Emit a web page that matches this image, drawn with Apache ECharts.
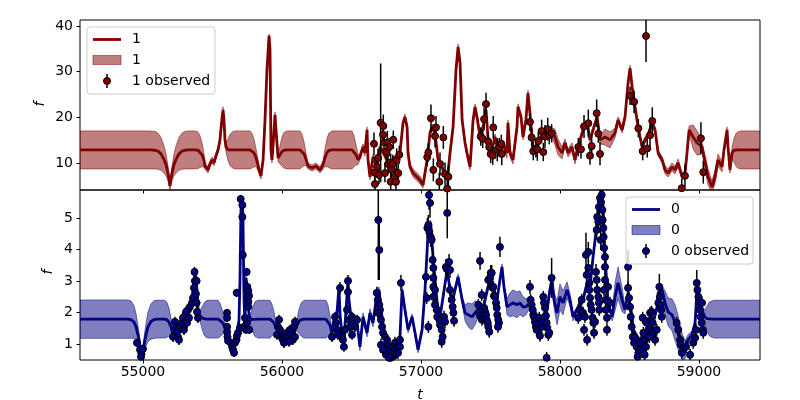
<!DOCTYPE html>
<html><head><meta charset="utf-8">
<script src="https://cdn.jsdelivr.net/npm/echarts@6/dist/echarts.min.js"></script>
<style>html,body{margin:0;padding:0;background:#fff}#c{width:800px;height:400px}</style>
</head><body><div id="c"></div>
<script>
// ---------- data ----------
const xTicks = [55000, 56000, 57000, 58000, 59000];
const topYTicks = [10, 20, 30, 40];
const botYTicks = [1, 2, 3, 4, 5];
const topLegend = ['1', '1', '1 observed'];
const botLegend = ['0', '0', '0 observed'];

// model: [t, mean, band half-width]
const topModel = [[54547,12.87,4.16],[55051,12.87,4.16],[55087,12.8,4.1],[55108,12.6,3.95],[55130,12.0,3.6],[55151,10.8,3.0],[55166,9.6,2.4],[55180,7.8,1.6],[55194,5.0,1.0],[55209,7.8,1.6],[55223,9.6,2.4],[55238,10.8,3.0],[55259,12.0,3.6],[55281,12.6,3.95],[55302,12.8,4.1],[55324,12.87,4.16],[55374,12.87,4.16],[55396,12.8,4.0],[55410,12.5,3.5],[55425,11.8,2.6],[55439,10.6,1.5],[55446,9.37,0.66],[55468,8.49,0.66],[55482,9.81,0.66],[55497,10.68,0.66],[55511,10.03,0.66],[55525,11.56,0.66],[55540,12.87,0.66],[55554,15.06,0.66],[55569,19.87,0.66],[55576,21.62,0.66],[55583,19.43,0.66],[55590,15.06,0.66],[55597,13.53,1.09],[55612,12.9,2.4],[55626,12.87,3.4],[55641,12.87,3.9],[55662,12.87,4.16],[55770,12.87,4.16],[55784,12.7,3.8],[55799,12.2,3.0],[55813,11.2,2.0],[55828,9.5,1.2],[55835,8.49,0.88],[55849,7.18,0.66],[55864,10.68,0.66],[55878,19.43,0.66],[55892,30.37,0.66],[55907,37.81,0.44],[55914,34.75,0.66],[55921,12.87,0.66],[55928,10.68,0.66],[55935,13.31,0.66],[55950,20.53,0.66],[55957,17.25,0.66],[55972,11.12,0.88],[55986,11.8,2.0],[56000,12.5,3.2],[56015,12.8,3.9],[56036,12.87,4.16],[56130,12.87,4.16],[56144,12.7,3.6],[56159,12.0,2.6],[56173,10.8,1.3],[56187,9.37,0.66],[56216,8.93,0.66],[56245,9.37,0.66],[56274,8.49,0.66],[56295,9.59,0.88],[56310,11.2,2.0],[56324,12.3,3.1],[56338,12.75,3.8],[56360,12.87,4.16],[56504,12.87,4.16],[56518,12.6,3.4],[56533,11.8,2.2],[56547,10.7,1.1],[56561,11.34,0.66],[56583,13.53,0.66],[56597,12.21,0.66],[56612,17.25,0.66],[56619,10.68,0.66],[56633,6.96,0.66],[56655,11.34,0.66],[56684,9.15,0.66],[56691,10.68,0.66],[56705,13.53,0.66],[56727,12.43,0.66],[56756,10.68,0.66],[56777,9.15,0.66],[56799,10.68,0.66],[56828,11.34,0.66],[56849,12.21,0.66],[56871,18.78,0.66],[56885,20.09,0.66],[56900,17.9,0.66],[56907,12.21,0.66],[56921,9.15,0.66],[56943,7.84,0.88],[56972,6.96,0.88],[56993,6.31,0.88],[57015,5.21,0.66],[57044,10.68,0.66],[57065,16.59,0.66],[57080,17.9,0.66],[57101,16.59,0.66],[57123,10.68,0.66],[57152,9.15,0.66],[57173,6.96,0.66],[57195,7.84,0.66],[57209,12.21,0.66],[57231,17.9,0.66],[57252,30.37,0.66],[57267,35.41,0.66],[57281,31.9,0.66],[57296,19.43,0.66],[57317,14.4,0.66],[57331,12.21,0.66],[57353,9.15,0.66],[57375,19.43,0.66],[57389,22.28,0.66],[57403,20.09,0.66],[57425,15.71,0.66],[57447,17.9,0.66],[57468,21.62,0.66],[57483,15.06,0.66],[57511,12.87,0.66],[57533,15.71,0.66],[57554,12.87,0.66],[57583,14.4,0.66],[57619,12.21,1.09],[57626,18.78,0.66],[57640,12.21,0.88],[57662,10.68,0.88],[57691,17.9,0.66],[57698,22.28,0.66],[57720,20.09,0.66],[57734,15.71,0.66],[57755,19.43,0.66],[57770,25.28,0.66],[57784,20.9,0.66],[57799,15.71,0.66],[57806,12.21,0.66],[57835,13.53,0.66],[57871,16.59,0.66],[57907,16.59,0.88],[57943,16.59,1.09],[57964,15.71,1.75],[57986,13.53,1.75],[58015,12.21,1.31],[58036,14.4,0.88],[58058,12.21,0.88],[58086,13.53,0.88],[58108,10.68,0.88],[58130,13.53,0.66],[58166,17.25,0.66],[58195,18.78,0.66],[58216,15.06,0.66],[58238,17.25,0.66],[58267,20.09,0.66],[58288,15.06,0.88],[58324,15.71,1.75],[58360,15.06,1.75],[58396,16.59,1.09],[58418,19.43,0.66],[58447,17.25,0.66],[58468,20.09,0.66],[58490,27.53,0.66],[58504,30.75,0.66],[58519,26.65,0.66],[58540,22.28,0.66],[58562,17.9,0.66],[58576,15.71,0.66],[58591,13.53,0.66],[58612,15.06,0.66],[58634,16.15,0.66],[58663,18.78,0.66],[58684,17.25,0.66],[58706,12.21,0.66],[58735,10.68,0.66],[58756,8.49,0.88],[58778,7.84,0.88],[58806,9.15,0.88],[58828,8.49,0.88],[58850,10.03,0.88],[58879,6.96,0.66],[58900,7.84,0.66],[58914,12.21,0.66],[58929,17.25,0.88],[58958,15.71,2.63],[58986,14.4,2.63],[59007,13.96,2.19],[59022,13.53,1.09],[59036,11.34,1.31],[59051,9.15,1.75],[59065,6.96,1.75],[59094,4.77,1.31],[59115,6.96,1.53],[59137,10.68,1.31],[59166,9.15,1.09],[59180,12.87,0.66],[59202,17.25,0.66],[59209,13.53,0.66],[59223,8.49,0.66],[59238,12.21,1.31],[59252,12.8,2.6],[59266,12.87,3.6],[59281,12.87,4.0],[59302,12.87,4.16],[59439,12.87,4.16]];

const botModel = [[54547,1.794,0.608],[54892,1.794,0.608],[54914,1.78,0.59],[54936,1.70,0.52],[54950,1.55,0.42],[54964,1.30,0.30],[54979,0.95,0.18],[54986,0.70,0.13],[54997,0.72,0.14],[55007,0.98,0.22],[55022,1.30,0.36],[55036,1.55,0.47],[55058,1.72,0.56],[55079,1.78,0.6],[55101,1.794,0.6],[55158,1.794,0.6],[55173,1.77,0.55],[55187,1.70,0.45],[55202,1.55,0.28],[55216,1.298,0.095],[55238,1.456,0.095],[55259,1.582,0.095],[55281,1.772,0.095],[55302,1.867,0.095],[55324,2.025,0.095],[55338,2.247,0.095],[55353,2.468,0.095],[55367,2.975,0.095],[55374,3.26,0.095],[55389,2.721,0.095],[55396,2.089,0.095],[55410,1.90,0.16],[55425,1.83,0.35],[55439,1.80,0.5],[55454,1.794,0.58],[55475,1.794,0.6],[55540,1.794,0.6],[55554,1.77,0.53],[55569,1.70,0.40],[55583,1.60,0.24],[55597,1.50,0.12],[55605,1.456,0.095],[55626,0.981,0.095],[55641,0.823,0.095],[55662,1.044,0.095],[55676,1.298,0.095],[55691,1.772,0.095],[55698,3.038,0.095],[55705,5.253,0.095],[55712,5.57,0.095],[55719,5.095,0.095],[55727,2.405,0.095],[55734,1.614,0.095],[55741,3.101,0.095],[55748,2.88,0.095],[55763,1.93,0.095],[55777,1.77,0.2],[55792,1.79,0.42],[55806,1.794,0.55],[55828,1.794,0.6],[55914,1.794,0.6],[55928,1.77,0.5],[55943,1.68,0.35],[55957,1.52,0.16],[55979,1.329,0.095],[56007,1.203,0.095],[56036,1.298,0.095],[56065,1.203,0.095],[56094,1.456,0.095],[56108,1.60,0.18],[56122,1.72,0.38],[56137,1.78,0.52],[56158,1.794,0.6],[56317,1.794,0.6],[56331,1.75,0.5],[56346,1.60,0.3],[56360,1.329,0.127],[56374,1.772,0.095],[56389,1.614,0.095],[56403,2.405,0.095],[56410,2.785,0.095],[56418,1.93,0.095],[56432,1.298,0.095],[56446,1.139,0.095],[56461,2.089,0.095],[56475,3.038,0.095],[56482,2.405,0.095],[56497,1.836,0.095],[56518,1.614,0.095],[56540,1.677,0.095],[56561,0.918,0.127],[56583,1.867,0.127],[56612,1.361,0.127],[56633,1.994,0.127],[56655,1.677,0.127],[56684,2.627,0.095],[56698,2.721,0.095],[56720,1.867,0.095],[56741,1.234,0.095],[56763,0.918,0.095],[56799,0.823,0.095],[56828,0.918,0.095],[56849,1.234,0.095],[56864,2.721,0.095],[56885,2.089,0.095],[56907,1.456,0.095],[56936,1.867,0.095],[56957,1.361,0.095],[56979,0.823,0.095],[57008,1.456,0.095],[57029,2.721,0.095],[57051,4.525,0.095],[57070,4.842,0.095],[57087,3.766,0.095],[57116,2.31,0.095],[57137,1.867,0.095],[57159,2.5,0.095],[57188,3.355,0.095],[57202,2.943,0.095],[57224,2.31,0.095],[57245,2.721,0.095],[57267,3.133,0.095],[57296,2.405,0.095],[57317,1.994,0.253],[57339,1.93,0.38],[57367,1.867,0.411],[57389,1.994,0.38],[57411,2.089,0.253],[57439,1.994,0.158],[57461,2.405,0.127],[57482,2.817,0.095],[57504,3.133,0.095],[57518,2.817,0.095],[57547,2.405,0.127],[57568,3.038,0.095],[57583,3.45,0.095],[57597,2.817,0.095],[57619,2.184,0.253],[57640,2.247,0.38],[57662,2.31,0.411],[57691,2.247,0.411],[57712,2.31,0.38],[57734,2.184,0.316],[57755,2.184,0.253],[57784,2.31,0.158],[57806,2.089,0.127],[57835,1.867,0.127],[57856,1.677,0.127],[57878,1.867,0.127],[57907,2.089,0.19],[57928,2.721,0.19],[57943,3.038,0.19],[57957,2.405,0.253],[57979,1.994,0.38],[58000,2.5,0.411],[58022,2.31,0.38],[58051,2.721,0.253],[58072,2.405,0.19],[58094,1.867,0.127],[58123,2.089,0.095],[58144,2.31,0.095],[58166,2.405,0.095],[58195,2.943,0.095],[58216,2.817,0.095],[58238,3.766,0.095],[58267,4.842,0.095],[58288,5.475,0.095],[58303,5.886,0.095],[58310,5.348,0.095],[58324,3.766,0.095],[58346,2.31,0.095],[58375,1.867,0.127],[58396,2.5,0.443],[58418,2.943,0.506],[58447,2.405,0.38],[58468,2.089,0.127],[58490,2.627,0.127],[58519,1.867,0.095],[58526,1.456,0.095],[58555,1.234,0.095],[58576,1.044,0.095],[58598,1.361,0.095],[58627,1.234,0.095],[58648,1.456,0.095],[58670,1.677,0.095],[58699,2.184,0.095],[58706,2.627,0.095],[58735,2.721,0.127],[58756,2.31,0.38],[58778,2.025,0.443],[58806,1.93,0.506],[58828,1.677,0.57],[58850,1.361,0.538],[58879,0.918,0.411],[58900,0.823,0.285],[58921,1.139,0.158],[58950,1.298,0.127],[58972,1.677,0.095],[58986,2.721,0.095],[59007,2.405,0.095],[59029,1.994,0.127],[59043,1.86,0.24],[59058,1.81,0.4],[59072,1.80,0.52],[59094,1.794,0.58],[59115,1.794,0.6],[59439,1.794,0.6]];

// observed: [t, value, error]
const topObs = [[56662,14.2,2.5],[56669,5.4,2],[56667,7.9,2],[56684,9.2,2.5],[56691,11.1,2],[56710,18.8,13],[56729,18.1,2.5],[56727,16.2,2],[56734,14.5,2],[56698,7.4,2],[56741,7.8,2],[56753,12.5,2],[56758,14.5,2.5],[56772,13.5,2],[56763,9.8,2],[56782,10.1,2],[56789,8.6,2],[56797,9.8,2],[56801,15.1,2],[56782,5.9,2],[56813,7.0,2],[56820,5.9,2],[56825,10.7,2.5],[56837,7.8,2],[56844,11.8,2],[57045,11.3,2],[57053,12.3,2],[57072,19.8,3],[57089,8.5,2.5],[57101,15.9,2.5],[57108,17.8,2.5],[57137,9.8,2.5],[57132,5.9,2],[57161,15.6,2.5],[57173,7.6,2.5],[57189,4.4,2],[57197,7.0,2.5],[57430,15.8,2],[57444,15.3,2],[57454,19.6,2.5],[57468,22.9,2.5],[57484,14.7,2],[57491,13.5,2],[57501,12.0,2],[57520,17.8,2.5],[57516,11.6,2],[57549,12.9,2.5],[57563,13.5,2],[57578,14.2,2],[57581,12.0,2.5],[57784,19.0,2],[57796,15.6,2],[57808,12.6,2],[57827,13.2,2],[57837,13.0,2.5],[57844,14.8,2],[57868,17.0,2.5],[57880,12.4,2],[57892,15.8,2.5],[57912,17.4,2.5],[57923,16.1,2],[57940,16.5,2],[58132,13.5,2],[58151,13.0,2],[58173,18.0,2.5],[58204,18.7,3],[58228,13.7,2.5],[58216,11.6,2],[58264,20.9,3],[58276,16.4,2],[58288,12.0,2.5],[58504,24.7,2],[58533,23.4,2.5],[58564,17.6,2],[58595,12.6,2],[58628,13.2,2],[58648,16.1,2.5],[58664,19.2,3],[58619,37.8,5.7],[58876,4.5,2],[58899,7.2,2.5],[59014,15.4,3.5],[59031,8.0,2.5]];

const botObs = [[54957,1.044,0.13],[54979,0.823,0.13],[54989,0.696,0.13],[55000,0.854,0.13],[54986,0.60,0.13],
[55216,1.234,0.16],[55230,1.709,0.16],[55238,1.551,0.16],[55245,1.392,0.16],[55252,1.234,0.16],[55266,1.551,0.16],[55281,1.677,0.16],[55288,1.836,0.16],[55302,1.899,0.16],[55317,1.677,0.16],[55324,2.089,0.16],[55331,1.836,0.16],[55338,2.184,0.16],[55353,2.31,0.16],[55360,2.468,0.16],[55367,2.785,0.16],[55371,3.291,0.16],[55374,3.006,0.16],[55386,3.006,0.16],[55381,2.595,0.16],[55386,2.31,0.16],[55389,2.025,0.16],[55396,1.836,0.16],[55310,2.025,0.16],[55295,1.456,0.16],[55259,1.139,0.16],
[55605,1.994,0.13],[55605,1.836,0.13],[55605,1.551,0.13],[55605,1.392,0.13],[55608,1.234,0.13],[55612,1.108,0.13],[55633,1.044,0.13],[55641,0.918,0.13],[55648,0.823,0.13],[55655,0.728,0.13],[55662,1.044,0.13],[55673,1.139,0.13],[55676,1.266,0.13],[55684,1.361,0.13],[55698,1.519,0.13],[55674,2.627,0.13],[55703,5.601,0.13],[55715,5.412,0.13],[55715,5.032,0.13],[55718,3.829,0.13],[55727,1.551,0.13],[55741,1.456,0.13],[55748,1.677,0.13],[55746,3.291,0.13],[55751,2.817,0.13],[55758,2.69,0.13],[55763,2.532,0.13],[55758,2.342,0.13],[55758,2.184,0.13],[55765,1.456,0.13],[55734,1.836,0.13],
[55964,1.298,0.16],[55971,1.551,0.16],[55979,1.772,0.16],[55986,1.456,0.16],[56000,1.203,0.16],[56007,1.139,0.16],[56022,1.298,0.16],[56029,1.203,0.16],[56036,1.361,0.16],[56043,1.234,0.16],[56058,1.456,0.16],[56065,1.298,0.16],[56079,1.139,0.16],[56086,1.551,0.16],[56094,1.709,0.16],[56094,1.234,0.16],[56014,1.044,0.16],[56050,1.076,0.16],
[56360,1.234,0.16],[56382,1.867,0.16],[56389,1.677,0.16],[56396,1.456,0.16],[56403,1.298,0.16],[56418,2.785,0.19],[56432,1.234,0.16],[56439,1.139,0.16],[56446,0.918,0.16],[56453,1.456,0.16],[56468,2.089,0.16],[56475,3.006,0.19],[56475,2.658,0.16],[56482,1.772,0.16],[56489,1.551,0.16],[56504,1.867,0.16],[56511,1.709,0.16],[56525,1.551,0.16],[56540,1.772,0.16],[56504,1.298,0.16],
[56682,2.627,0.19],[56689,2.405,0.19],[56693,4.937,1.9],[56700,3.987,0.95],[56700,2.247,0.19],[56705,2.089,0.19],[56691,1.994,0.19],[56712,1.772,0.19],[56720,1.551,0.19],[56727,1.361,0.19],[56741,1.234,0.19],[56756,1.139,0.19],[56756,1.013,0.19],[56763,0.918,0.19],[56777,0.823,0.19],[56792,0.728,0.19],[56799,0.918,0.19],[56813,1.044,0.19],[56828,0.823,0.19],[56835,0.95,0.19],[56849,1.139,0.19],[56856,2.943,0.25],[56849,0.918,0.19],[56835,0.728,0.19],[56806,0.633,0.19],[56784,0.569,0.19],[56749,0.665,0.19],[56727,0.823,0.19],[56712,0.981,0.19],[56770,0.569,0.19],
[57036,3.133,0.19],[57041,2.468,0.19],[57053,1.551,0.19],[57046,4.684,0.32],[57053,4.779,0.32],[57060,4.557,0.32],[57070,4.399,0.32],[57077,4.304,0.32],[57058,5.728,0.47],[57065,5.475,0.47],[57084,3.671,0.25],[57089,3.418,0.25],[57089,3.101,0.25],[57089,2.817,0.19],[57101,2.721,0.19],[57089,2.5,0.19],[57101,2.247,0.19],[57113,2.089,0.19],[57117,1.867,0.19],[57132,1.772,0.19],[57137,1.614,0.19],[57149,1.456,0.19],[57149,1.076,0.19],[57156,1.234,0.19],[57166,1.867,0.19],[57173,1.709,0.19],[57180,3.45,0.25],[57185,3.386,0.25],[57189,5.158,0.8],[57202,3.608,0.25],[57209,3.355,0.25],[57209,2.721,0.19],[57221,2.405,0.19],[57228,2.184,0.19],[57233,1.994,0.19],[57238,1.741,0.19],
[57413,2.247,0.19],[57420,2.025,0.19],[57425,3.64,0.28],[57425,1.899,0.19],[57437,2.563,0.19],[57439,1.772,0.19],[57447,1.836,0.19],[57454,2.152,0.19],[57461,2.025,0.19],[57468,1.93,0.19],[57473,1.772,0.19],[57480,1.677,0.19],[57484,1.551,0.19],[57491,1.392,0.19],[57484,3.038,0.25],[57497,3.101,0.25],[57502,3.26,0.25],[57509,3.26,0.25],[57516,2.785,0.19],[57520,2.817,0.19],[57525,2.532,0.19],[57532,2.5,0.19],[57540,2.31,0.19],[57545,2.152,0.19],[57549,1.93,0.19],[57556,1.772,0.19],[57561,1.677,0.19],[57554,1.551,0.19],[57568,4.082,0.32],
[57784,2.817,0.22],[57789,2.405,0.19],[57796,2.247,0.19],[57804,2.089,0.19],[57808,1.93,0.19],[57813,1.867,0.19],[57820,1.709,0.19],[57827,1.551,0.19],[57832,1.456,0.19],[57844,1.677,0.19],[57851,1.836,0.19],[57856,1.266,0.19],[57868,1.551,0.19],[57875,1.709,0.19],[57880,2.5,0.19],[57885,2.31,0.19],[57892,2.152,0.19],[57899,1.899,0.19],[57904,1.677,0.19],[57909,1.519,0.19],[57916,1.297,0.19],[57923,1.361,0.19],[57940,3.101,0.63],[57904,0.569,0.19],
[58132,1.836,0.19],[58144,2.089,0.19],[58156,2.405,0.19],[58166,1.994,0.19],[58180,1.867,0.19],[58187,3.829,0.7],[58192,3.196,0.25],[58204,3.924,0.32],[58204,3.418,0.25],[58211,2.943,0.25],[58211,2.721,0.19],[58216,2.468,0.19],[58221,2.247,0.19],[58228,2.089,0.19],[58235,1.836,0.19],[58240,1.677,0.19],[58252,1.709,0.19],[58259,3.291,0.25],[58264,3.038,0.25],[58268,2.721,0.19],[58276,2.5,0.19],[58280,2.31,0.19],[58283,2.089,0.19],[58264,4.62,0.32],[58268,5.032,0.32],[58276,4.874,0.32],[58280,5.348,0.32],[58288,5.633,0.32],[58293,4.304,0.32],[58295,5.507,0.32],[58300,5.728,0.32],[58305,5.253,0.32],[58307,4.937,0.32],[58312,4.684,0.32],[58314,4.399,0.32],[58317,4.051,0.25],[58324,3.766,0.25],[58324,3.449,0.25],[58324,3.038,0.25],[58317,2.721,0.19],[58328,2.405,0.19],[58331,2.089,0.19],[58338,1.836,0.19],[58346,2.817,0.19],[58360,2.31,0.19],[58338,1.456,0.19],[58173,1.456,0.19],[58245,1.361,0.19],[58195,1.139,0.19],
[58490,3.449,0.54],[58490,2.785,0.19],[58497,2.468,0.19],[58504,2.184,0.19],[58509,1.867,0.19],[58516,1.551,0.19],[58524,1.234,0.19],[58533,1.044,0.19],[58540,1.203,0.19],[58552,0.918,0.19],[58564,0.728,0.19],[58576,1.044,0.19],[58588,0.823,0.19],[58595,1.836,0.19],[58600,1.361,0.19],[58612,1.139,0.19],[58619,0.918,0.19],[58624,1.677,0.19],[58636,1.456,0.19],[58643,1.234,0.19],[58648,1.994,0.19],[58653,1.772,0.19],[58660,2.025,0.19],[58667,1.677,0.19],[58672,1.361,0.19],[58684,1.139,0.19],[58696,1.456,0.19],[58708,2.31,0.19],[58715,2.817,0.41],[58720,2.5,0.19],[58725,2.247,0.19],[58729,2.089,0.19],[58732,1.867,0.19],[58559,0.601,0.19],[58609,0.665,0.19],
[58839,1.677,0.19],[58851,1.456,0.19],[58864,1.139,0.19],[58869,0.981,0.19],[58876,0.728,0.19],[58887,0.886,0.19],[58907,0.918,0.19],[58959,1.044,0.19],[58972,1.203,0.19],[58979,1.456,0.19],[58984,2.943,0.41],[58989,2.721,0.25],[58996,2.5,0.19],[59001,2.31,0.19],[59007,2.089,0.19],[59012,1.867,0.19],[59019,1.677,0.19],[59027,1.456,0.19],[59031,1.361,0.19],[59022,2.31,0.19],[58936,0.665,0.19]];

// ---------- chart ----------
const FONT = 'DejaVu Sans';
const TOP_C = '#800000', BOT_C = '#000080';
const TOP_F = 'rgba(128,0,0,0.5)', BOT_F = 'rgba(0,0,128,0.5)';
const chart = echarts.init(document.getElementById('c'));

function bandSeries(model, gi, fill) {
  return {
    type: 'custom', xAxisIndex: gi, yAxisIndex: gi, clip: true, z: 1, silent: true,
    data: model.map(d => [d[0], d[1] - d[2], d[1] + d[2]]),
    encode: { x: 0, y: [1, 2] },
    renderItem(params, api) {
      if (params.dataIndex !== 0) return;
      const up = [], lo = [];
      for (const d of model) {
        up.push(api.coord([d[0], d[1] + d[2]]));
        lo.push(api.coord([d[0], d[1] - d[2]]));
      }
      return { type: 'polygon', shape: { points: up.concat(lo.reverse()) },
        style: { fill: fill, stroke: fill, lineWidth: 1 } };
    }
  };
}
function lineSeries(model, gi, color) {
  return { type: 'line', xAxisIndex: gi, yAxisIndex: gi, z: 2, silent: true,
    data: model.map(d => [d[0], d[1]]), showSymbol: false, symbol: 'none',
    lineStyle: { color: color, width: 2.8 }, clip: true };
}
function errSeries(obs, gi) {
  return { type: 'custom', xAxisIndex: gi, yAxisIndex: gi, clip: true, z: 3, silent: true,
    data: obs.map(d => [d[0], d[1] - d[2], d[1] + d[2]]),
    encode: { x: 0, y: [1, 2] },
    renderItem(params, api) {
      const a = api.coord([api.value(0), api.value(1)]);
      const b = api.coord([api.value(0), api.value(2)]);
      return { type: 'line', shape: { x1: a[0], y1: a[1], x2: b[0], y2: b[1] },
        style: { stroke: '#000', lineWidth: 1.5 } };
    } };
}
function ptSeries(obs, gi, color) {
  return { type: 'scatter', xAxisIndex: gi, yAxisIndex: gi, z: 4, silent: true, clip: true,
    data: obs.map(d => [d[0], d[1]]), symbol: 'circle', symbolSize: 7,
    itemStyle: { color: color, borderColor: '#000', borderWidth: 1, opacity: 1 } };
}
function xAxis(gi, showLabel) {
  return { type: 'value', gridIndex: gi, min: 54547, max: 59439,
    axisLine: { show: false }, splitLine: { show: false },
    axisTick: { show: true, inside: false, length: 3.5, lineStyle: { color: '#000', width: 1 }, customValues: xTicks },
    axisLabel: { show: showLabel, customValues: xTicks, formatter: v => String(v), color: '#000', fontSize: 14, fontFamily: FONT, margin: 5 } };
}
function yAxis(gi, min, max, ticks) {
  return { type: 'value', gridIndex: gi, min: min, max: max,
    axisLine: { show: false }, splitLine: { show: false },
    axisTick: { show: true, inside: false, length: 3.5, lineStyle: { color: '#000', width: 1 }, customValues: ticks },
    axisLabel: { customValues: ticks, formatter: v => String(v), color: '#000', fontSize: 14, fontFamily: FONT, margin: 7 } };
}
function legendGraphics(x, y, w, h, labels, color, fill) {
  const t = { fontSize: 14, fontFamily: FONT, fill: '#000', verticalAlign: 'middle', align: 'left' };
  const cx = x + 20;
  return [
    { type: 'rect', shape: { x: x, y: y, width: w, height: h, r: 3 }, style: { fill: 'rgba(255,255,255,0.8)', stroke: '#cccccc', lineWidth: 1 }, z: 100 },
    { type: 'line', shape: { x1: x + 6, y1: y + 12.5, x2: x + 34, y2: y + 12.5 }, style: { stroke: color, lineWidth: 2.8 }, z: 101 },
    { type: 'text', x: x + 45, y: y + 12.5, style: Object.assign({ text: labels[0] }, t), z: 101 },
    { type: 'rect', shape: { x: x + 6, y: y + 28.5, width: 28, height: 9 }, style: { fill: fill, stroke: fill, lineWidth: 1 }, z: 101 },
    { type: 'text', x: x + 45, y: y + 33, style: Object.assign({ text: labels[1] }, t), z: 101 },
    { type: 'line', shape: { x1: cx, y1: y + 47, x2: cx, y2: y + 61 }, style: { stroke: '#000', lineWidth: 1.5 }, z: 101 },
    { type: 'circle', shape: { cx: cx, cy: y + 54, r: 3.5 }, style: { fill: color, stroke: '#000', lineWidth: 1 }, z: 102 },
    { type: 'text', x: x + 45, y: y + 54, style: Object.assign({ text: labels[2] }, t), z: 101 }
  ];
}

const option = {
  animation: false,
  backgroundColor: '#fff',
  grid: [
    { left: 80, top: 20, width: 680, height: 170, show: true, borderColor: '#000', borderWidth: 1, backgroundColor: 'transparent' },
    { left: 80, top: 190, width: 680, height: 170, show: true, borderColor: '#000', borderWidth: 1, backgroundColor: 'transparent' }
  ],
  xAxis: [xAxis(0, false), xAxis(1, true)],
  yAxis: [yAxis(0, 4.1, 41.3, topYTicks), yAxis(1, 0.5, 5.886, botYTicks)],
  series: [
    bandSeries(topModel, 0, TOP_F), lineSeries(topModel, 0, TOP_C), errSeries(topObs, 0), ptSeries(topObs, 0, TOP_C),
    bandSeries(botModel, 1, BOT_F), lineSeries(botModel, 1, BOT_C), errSeries(botObs, 1), ptSeries(botObs, 1, BOT_C)
  ],
  graphic: [].concat(
    legendGraphics(87, 27, 128, 67, topLegend, TOP_C, TOP_F),
    legendGraphics(626, 197, 127, 67, botLegend, BOT_C, BOT_F),
    [
      { type: 'text', x: 40, y: 104, rotation: Math.PI / 2, style: { text: 'f', fontSize: 14, fontFamily: FONT, fontStyle: 'italic', fill: '#000', align: 'center', verticalAlign: 'middle' } },
      { type: 'text', x: 48, y: 272, rotation: Math.PI / 2, style: { text: 'f', fontSize: 14, fontFamily: FONT, fontStyle: 'italic', fill: '#000', align: 'center', verticalAlign: 'middle' } },
      { type: 'text', x: 420, y: 395, style: { text: 't', fontSize: 14, fontFamily: FONT, fontStyle: 'italic', fill: '#000', align: 'center', verticalAlign: 'middle' } }
    ]
  )
};
chart.setOption(option);
</script>
</body></html>
